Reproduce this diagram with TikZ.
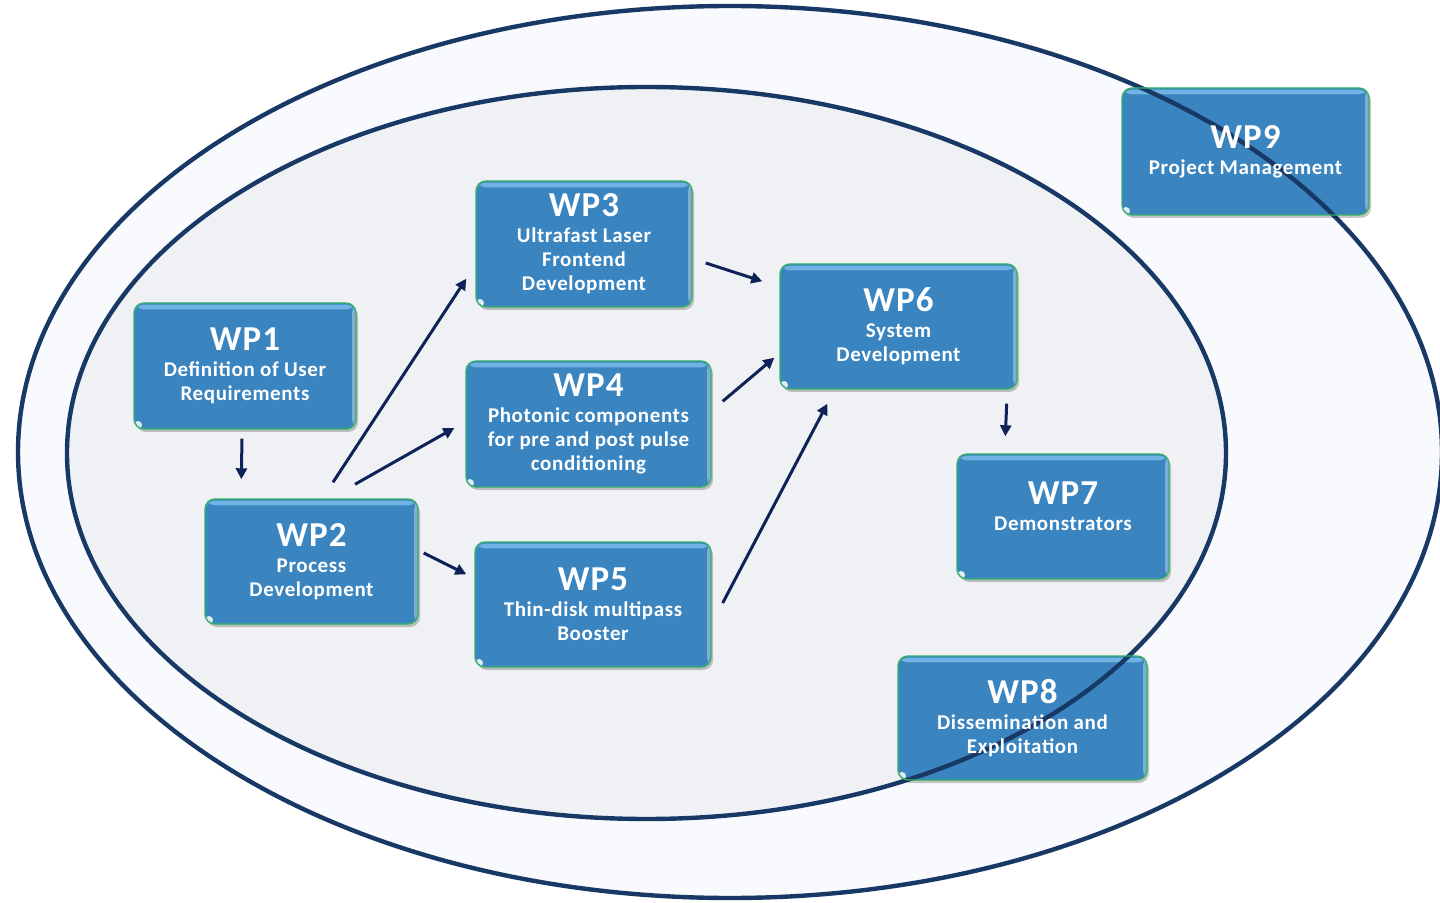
\documentclass[tikz,border=0pt]{standalone}
\usepackage{fontspec}
\setmainfont{Carlito}[LetterSpace=3]
\usetikzlibrary{arrows.meta,shadows,calc}
\definecolor{boxblue}{RGB}{58,132,192}
\definecolor{boxgreen}{RGB}{52,176,104}
\definecolor{boxtop}{RGB}{125,190,236}
\definecolor{edgeblue}{RGB}{24,56,102}
\definecolor{arrowblue}{RGB}{14,34,88}
\definecolor{outerfill}{RGB}{249,250,253}
\definecolor{innerfill}{RGB}{240,241,244}
\newcommand{\boxdeco}{%
  \fill[boxtop, opacity=0.8] ([yshift=-0.8pt]path picture bounding box.north west)
    rectangle ([yshift=-3.2pt]path picture bounding box.north east);
  \fill[white, opacity=0.35] ([xshift=-2pt]path picture bounding box.north east)
    rectangle (path picture bounding box.south east);
  \fill[white, opacity=0.85] ([shift={(2pt,2pt)}]path picture bounding box.south west) circle (2pt);}
\newcommand{\ringsdeco}{%
  \draw[ring] (oc) ellipse [x radius=356pt, y radius=223pt];
  \draw[ring] (ic) ellipse [x radius=289.75pt, y radius=183pt];}
\tikzset{
  wp/.style={draw=boxgreen, line width=0.7pt, fill=boxblue, rounded corners=5pt,
    text=white, font=\bfseries\fontsize{10.5}{12}\selectfont, align=center, inner sep=0pt,
    drop shadow={shadow xshift=1pt, shadow yshift=-1.5pt, opacity=0.22, fill=black},
    path picture={\boxdeco}},
  crossed/.style={path picture={\boxdeco\ringsdeco}},
  bx/.style 2 args={minimum width=#1*0.5pt, minimum height=#2*0.5pt},
  wparrow/.style={draw=arrowblue, line width=1.5pt, -{Triangle[length=5.5pt,width=5.5pt]}},
  ring/.style={draw=edgeblue, line width=2.2pt},
}
\newcommand{\wpt}[1]{{\fontsize{17.5}{14}\selectfont #1}\\[1pt]}
\begin{document}
\begin{tikzpicture}[x=0.5pt, y=-0.5pt]
\useasboundingbox (0,0) rectangle (1440,903);
\fill[white] (0,0) rectangle (1440,903);
\coordinate (oc) at (730,452);
\coordinate (ic) at (646.5,453);
% ellipses
\filldraw[ring, fill=outerfill] (oc) ellipse [x radius=356pt, y radius=223pt];
\filldraw[ring, fill=innerfill] (ic) ellipse [x radius=289.75pt, y radius=183pt];

% boxes
\node[wp, bx={222}{126}] (wp1) at (245,366) {\wpt{WP1}Definition of User\\Requirements};
\node[wp, bx={213}{125}] (wp2) at (311.5,561.5) {\wpt{WP2}Process\\Development};
\node[wp, bx={216}{126}] (wp3) at (584,244) {\wpt{WP3}Ultrafast Laser\\Frontend\\Development};
\node[wp, bx={245}{126}] (wp4) at (588.5,424) {\wpt{WP4}Photonic components\\for pre and post pulse\\conditioning};
\node[wp, bx={236}{125}] (wp5) at (593,604.5) {\wpt{WP5}Thin-disk multipass\\Booster};
\node[wp, bx={237}{125}] (wp6) at (898.5,326.5) {\wpt{WP6}System\\Development};
\node[wp, bx={212}{125}] (wp7) at (1063,516.5) {\wpt{WP7}Demonstrators\rule[-10pt]{0pt}{0pt}};
\node[wp, crossed, bx={249}{124}] (wp8) at (1022.5,718) {\wpt{WP8}Dissemination and\\Exploitation};
\node[wp, crossed, bx={247}{127}] (wp9) at (1245.5,151.5) {\wpt{WP9}Project Management};

% arrows
\draw[wparrow] ($(wp1.south)+(-3,9)$) -- ($(wp2.north west)+(37,-19)$);
\draw[wparrow] ($(wp2.north)+(21.5,-16)$) -- ($(wp3.south west)+(-9,-29)$);
\draw[wparrow] ($(wp2.north)+(43.5,-14)$) -- ($(wp4.west)+(-11,4)$);
\draw[wparrow] ($(wp2.east)+(5,-8.5)$) -- ($(wp5.north west)+(-8,33)$);
\draw[wparrow] ($(wp3.east)+(13,19)$) -- ($(wp6.north west)+(-17,18)$);
\draw[wparrow] ($(wp4.north east)+(11,41)$) -- ($(wp6.south west)+(-5,-32)$);
\draw[wparrow] ($(wp5.east)+(11,-1.5)$) -- ($(wp6.south west)+(48,14)$);
\draw[wparrow] ($(wp6.south east)+(-11,14)$) -- ($(wp7.north west)+(49,-17)$);
\end{tikzpicture}
\end{document}
